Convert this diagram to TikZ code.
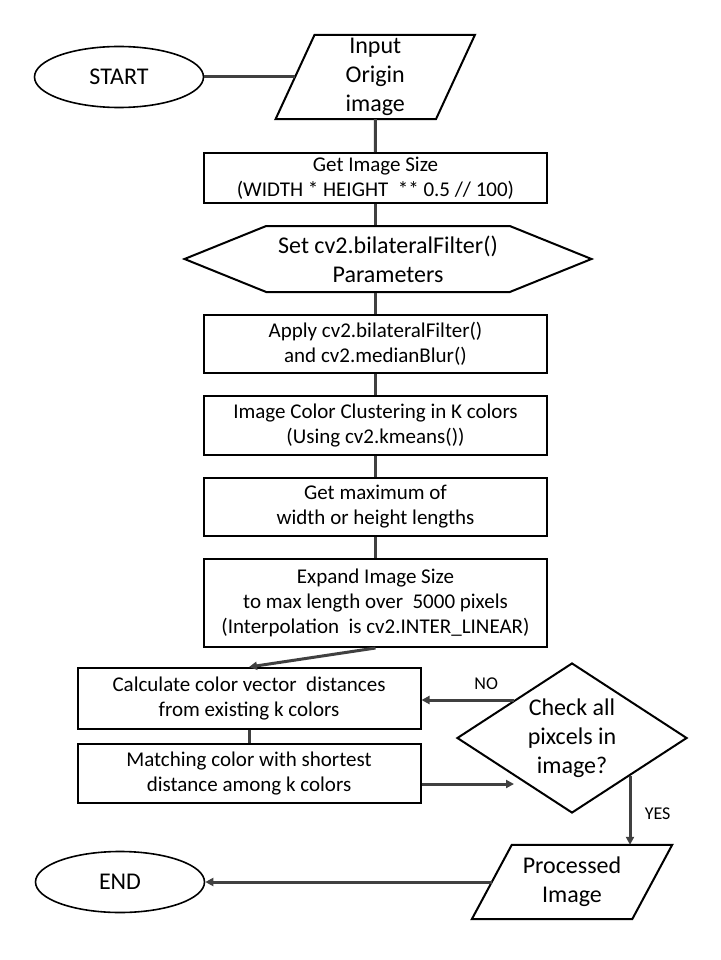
\documentclass[tikz,border=0pt]{standalone}
\usepackage{fontspec}
\setmainfont{Carlito}
\usetikzlibrary{positioning,arrows.meta,shapes.geometric,shapes.symbols}
\definecolor{conn}{HTML}{404040}

\begin{document}
\begin{tikzpicture}[x=1pt, y=-1pt,
  node distance=21pt,
  txt/.style={font=\fontsize{21}{25}\selectfont, align=center},
  big/.style={font=\fontsize{24}{29}\selectfont, align=center},
  box/.style={draw, line width=2pt, rectangle, txt, inner sep=0pt,
              minimum width=343pt},
  term/.style={draw, line width=1.6pt, ellipse, big, inner sep=0pt,
               minimum width=169pt, minimum height=61pt},
  io/.style={rectangle, big, inner sep=0pt, minimum width=160pt},
  ioline/.style={draw, line width=2pt, line join=miter},
  prep/.style={draw, line width=2pt, signal, signal to=east and west,
               signal pointer angle=44, big, inner sep=0pt,
               minimum width=407pt, minimum height=66pt},
  decide/.style={draw, line width=2pt, diamond, aspect=1.53, big, inner sep=0pt,
                 minimum width=230pt, minimum height=150pt},
  line/.style={draw=conn, line width=3pt},
  arr/.style={line, -{Triangle[length=8pt,width=8pt]}},
  lbl/.style={font=\fontsize{18}{21}\selectfont}
]
  \useasboundingbox (0,0) rectangle (720,960);

  \node[term] (start) at (119,77) {START};
  \node[io, minimum height=84pt] (input) at (375.25,77) {Input\\Origin\\image};
  \draw[ioline] ([xshift=19.5pt]input.north west) -- ([xshift=19.5pt]input.north east)
    -- ([xshift=-19.5pt]input.south east) -- ([xshift=-19.5pt]input.south west) -- cycle;

  % main column
  \node[box, minimum height=50pt] (getsize) at (375.5,178)
        {Get Image Size\\(WIDTH * HEIGHT\ \ ** 0.5 // 100)};
  \node[prep, below=of getsize, xshift=12.5pt] (setparam)
        {Set cv2.bilateralFilter()\\Parameters};
  \node[box, minimum height=58pt, below=of setparam, xshift=-12.5pt] (apply)
        {Apply cv2.bilateralFilter()\\and cv2.medianBlur()};
  \node[box, minimum height=59pt, below=of apply] (cluster)
        {Image Color Clustering in K colors\\(Using cv2.kmeans())};
  \node[box, minimum height=58pt, below=of cluster] (getmax)
        {Get maximum of\\width or height lengths};
  \node[box, minimum height=88pt, below=of getmax] (expand)
        {Expand Image Size\\to max length over\ \ 5000 pixels\\(Interpolation\ \ is cv2.INTER\_LINEAR)};

  % pixel loop
  \node[box, minimum height=61pt] (calc) at (249,698.5)
        {Calculate color vector\ \ distances\\from existing k colors};
  \node[box, minimum height=59pt] (match) at (249,773.5)
        {Matching color with shortest\\distance among k colors};
  \node[decide] (check) at (572,738) {Check all\\pixcels in\\image?};

  \node[io, minimum height=74pt] (processed) at (572,882) {Processed\\Image};
  \draw[ioline] ([xshift=20pt]processed.north west) -- ([xshift=20pt]processed.north east)
    -- ([xshift=-20pt]processed.south east) -- ([xshift=-20pt]processed.south west) -- cycle;
  \node[term] (end) at (120,882) {END};

  \draw[line] (start) -- (input);
  \draw[line] (input) -- (getsize);
  \draw[line] (getsize) -- (getsize |- setparam.north);
  \draw[line] (apply |- setparam.south) -- (apply);
  \draw[line] (apply) -- (cluster);
  \draw[line] (cluster) -- (getmax);
  \draw[line] (getmax) -- (expand);
  \draw[arr] (expand.south) -- (calc.north);
  \draw[line] (calc) -- (match);
  \draw[arr] ([yshift=-8pt]match.east |- check.south west) -- ([yshift=-8pt]check.south west);
  \draw[arr] (check.north west) -- node[lbl, above=6pt, pos=0.3]{NO} (check.north west -| calc.east);
  \draw[arr] (check.south east) -- node[lbl, right=10pt, pos=0.55]{YES} (check.south east |- processed.north);
  \draw[arr] (processed) -- (end);
\end{tikzpicture}
\end{document}
